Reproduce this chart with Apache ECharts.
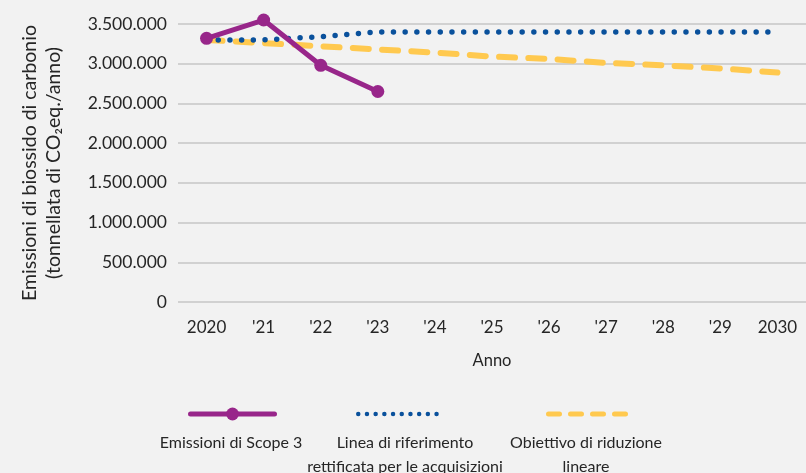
<!DOCTYPE html>
<html>
<head>
<meta charset="utf-8">
<script src="https://cdn.jsdelivr.net/npm/echarts@6/dist/echarts.min.js"></script>
<style>
  html, body { margin: 0; padding: 0; background: #f2f2f2; }
  #chart { width: 806px; height: 473px; }
</style>
</head>
<body>
<div id="chart"></div>
<script>
// Years on the horizontal axis
const years = ['2020', "'21", "'22", "'23", "'24", "'25", "'26", "'27", "'28", "'29", '2030'];

// Scope 3 emissions (t CO2eq / year), actual values
const scope3 = [3320000, 3550000, 2980000, 2650000, null, null, null, null, null, null, null];

// Baseline adjusted for acquisitions
const baseline = [3300000, 3300000, 3340000, 3400000, 3400000, 3400000, 3400000, 3400000, 3400000, 3400000, 3400000];

// Linear reduction target
const target = [3300000, 3260000, 3220000, 3180000, 3140000, 3090000, 3060000, 3010000, 2980000, 2940000, 2890000];

// Y axis range
const yMin = 0, yMax = 3500000, yStep = 500000;

const names = {
  scope3: 'Emissioni di Scope 3',
  baseline: 'Linea di riferimento\nrettificata per le acquisizioni',
  target: 'Obiettivo di riduzione\nlineare'
};

const colors = { scope3: '#98268a', baseline: '#0a519c', target: '#ffc94f' };
const styles = {
  scope3: { color: colors.scope3, width: 5, type: 'solid', cap: 'round' },
  baseline: { color: colors.baseline, width: 5.5, type: [0, 11.7], cap: 'round' },
  target: { color: colors.target, width: 6, type: [16, 13.3], cap: 'round' }
};
// Legend swatches use a tighter dash pattern
const legendStyles = {
  scope3: styles.scope3,
  baseline: { color: colors.baseline, width: 4.5, type: [0, 8.7], cap: 'round' },
  target: { color: colors.target, width: 5, type: [11, 11], cap: 'round' }
};
const textColor = '#262626';
const font = 'Lato';

function fmt(v) {
  return String(v).replace(/\B(?=(\d{3})+(?!\d))/g, '.');
}

const chart = echarts.init(document.getElementById('chart'), null, { renderer: 'canvas' });

function legendFor(name, left, lineStyle, showSymbol) {
  return {
    data: [name],
    left: left,
    top: showSymbol ? 406 : 408,
    itemWidth: 84,
    itemHeight: showSymbol ? 16 : 12,
    itemGap: 0,
    padding: 0,
    formatter: () => '',
    textStyle: { fontSize: 1 },
    selectedMode: false,
    lineStyle: lineStyle,
    itemStyle: showSymbol ? {} : { opacity: 0 }
  };
}

chart.setOption({
  backgroundColor: '#f2f2f2',
  animation: false,
  textStyle: { fontFamily: font, color: textColor },
  grid: { left: 178, right: -6, top: 24, bottom: 171, containLabel: false },
  xAxis: {
    type: 'category',
    data: years,
    boundaryGap: true,
    axisLine: { show: false },
    axisTick: { show: false },
    axisLabel: { color: textColor, fontSize: 17, fontFamily: font, margin: 17 },
    name: 'Anno',
    nameLocation: 'middle',
    nameGap: 50,
    nameTextStyle: { color: textColor, fontSize: 16.5, fontFamily: font }
  },
  yAxis: {
    type: 'value',
    min: yMin,
    max: yMax,
    interval: yStep,
    axisLine: { show: false },
    axisTick: { show: false },
    splitLine: { lineStyle: { color: '#c6c6c6', width: 1.5 } },
    axisLabel: { color: textColor, fontSize: 17.5, fontFamily: font, margin: 11, formatter: fmt },
    name: 'Emissioni di biossido di carbonio\n(tonnellata di CO\u2082eq./anno)',
    nameLocation: 'middle',
    nameRotate: 90,
    nameGap: 112,
    nameTextStyle: { color: textColor, fontSize: 19.5, fontFamily: font, lineHeight: 24, align: 'center' }
  },
  legend: [
    legendFor(names.scope3, 188, legendStyles.scope3, true),
    legendFor(names.baseline, 356, legendStyles.baseline, false),
    legendFor(names.target, 546, legendStyles.target, false)
  ],
  graphic: [
    {
      type: 'text', x: 231, y: 431,
      style: { text: names.scope3, font: '16px ' + font, fill: textColor, align: 'center', lineHeight: 24 }
    },
    {
      type: 'text', x: 405, y: 431,
      style: { text: names.baseline, font: '16px ' + font, fill: textColor, align: 'center', lineHeight: 24 }
    },
    {
      type: 'text', x: 586, y: 431,
      style: { text: names.target, font: '16px ' + font, fill: textColor, align: 'center', lineHeight: 24 }
    }
  ],
  series: [
    {
      name: names.target,
      type: 'line',
      data: target,
      symbol: 'none',
      z: 2,
      clip: false,
      lineStyle: styles.target,
      itemStyle: { color: colors.target }
    },
    {
      name: names.baseline,
      type: 'line',
      data: baseline,
      symbol: 'none',
      z: 3,
      clip: false,
      lineStyle: styles.baseline,
      itemStyle: { color: colors.baseline }
    },
    {
      name: names.scope3,
      type: 'line',
      data: scope3,
      symbol: 'circle',
      symbolSize: 13,
      z: 4,
      clip: false,
      lineStyle: styles.scope3,
      itemStyle: { color: colors.scope3 }
    }
  ]
});
</script>
</body>
</html>
